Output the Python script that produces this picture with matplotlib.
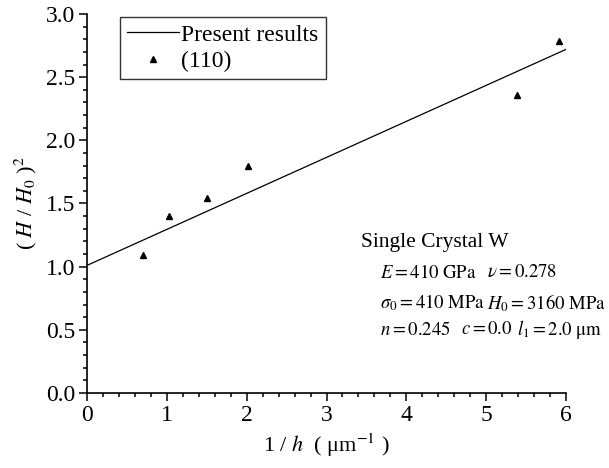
import matplotlib
matplotlib.use("Agg")
import matplotlib.pyplot as plt
from matplotlib.ticker import MultipleLocator, FormatStrFormatter

plt.rcParams['font.family'] = ['Liberation Serif', 'DejaVu Serif']
plt.rcParams['mathtext.fontset'] = 'stix'

# Data
fit_x = [0.0, 6.0]
fit_y = [1.01, 2.72]
exp_x = [0.70, 1.03, 1.50, 2.02, 5.38, 5.91]
exp_y = [1.095, 1.40, 1.54, 1.795, 2.36, 2.79]

fig = plt.figure(figsize=(6.09, 4.68), dpi=100)
ax = fig.add_axes([0.1429, 0.1603, 0.7865, 0.8098])

ax.plot(fit_x, fit_y, color='black', lw=0.9, label='Present results')
ax.plot(exp_x, exp_y, linestyle='none', marker='^', color='black', ms=5, label='(110)')

ax.set_xlim(0, 6)
ax.set_ylim(0, 3.0)
ax.xaxis.set_major_locator(MultipleLocator(1))
ax.xaxis.set_minor_locator(MultipleLocator(0.2))
ax.yaxis.set_major_locator(MultipleLocator(0.5))
ax.yaxis.set_minor_locator(MultipleLocator(0.1))
ax.yaxis.set_major_formatter(FormatStrFormatter('%.1f'))

for s in ['top', 'right']:
    ax.spines[s].set_visible(False)
for s in ['left', 'bottom']:
    ax.spines[s].set_linewidth(1.2)
ax.tick_params(which='major', direction='out', length=5.5, width=1.1, labelsize=17, pad=3)
ax.tick_params(which='minor', direction='out', length=3, width=1.1)

ax.set_xlabel(r'1 / $h$  ( μm$^{\mathrm{-1}}$ )', fontsize=16, labelpad=4)
ax.set_ylabel(r'( $H$ / $H_0$ )$^2$', fontsize=16, labelpad=5)

leg = ax.legend(loc='upper left', bbox_to_anchor=(0.069, 0.992), borderaxespad=0,
                fontsize=17, frameon=True, fancybox=False, edgecolor='black',
                handlelength=2.2, handletextpad=0.1, borderpad=0.3, labelspacing=0.2,
                markerscale=0.8)
leg.get_frame().set_linewidth(1.0)

fs = 13.5
ax.text(4.36, 1.19, 'Single Crystal W', fontsize=15.5, ha='center', va='center')
ax.text(3.67, 0.95, r'$E = \mathrm{410\ GPa}$', fontsize=fs, ha='left', va='center')
ax.text(5.01, 0.95, r'$\nu = \mathrm{0.278}$', fontsize=fs, ha='left', va='center')
ax.text(3.67, 0.713, r'$\sigma_0 = \mathrm{410\ MPa}$', fontsize=fs, ha='left', va='center')
ax.text(5.01, 0.713, r'$H_0 = \mathrm{3160\ MPa}$', fontsize=fs, ha='left', va='center')
ax.text(3.67, 0.50, r'$n = \mathrm{0.245}$', fontsize=fs, ha='left', va='center')
ax.text(4.68, 0.50, r'$c = \mathrm{0.0}$', fontsize=fs, ha='left', va='center')
ax.text(6.45, 0.50, r'$l_1 = \mathrm{2.0\ \mu m}$', fontsize=fs, ha='right', va='center')

fig.savefig('out.png', dpi=100)
